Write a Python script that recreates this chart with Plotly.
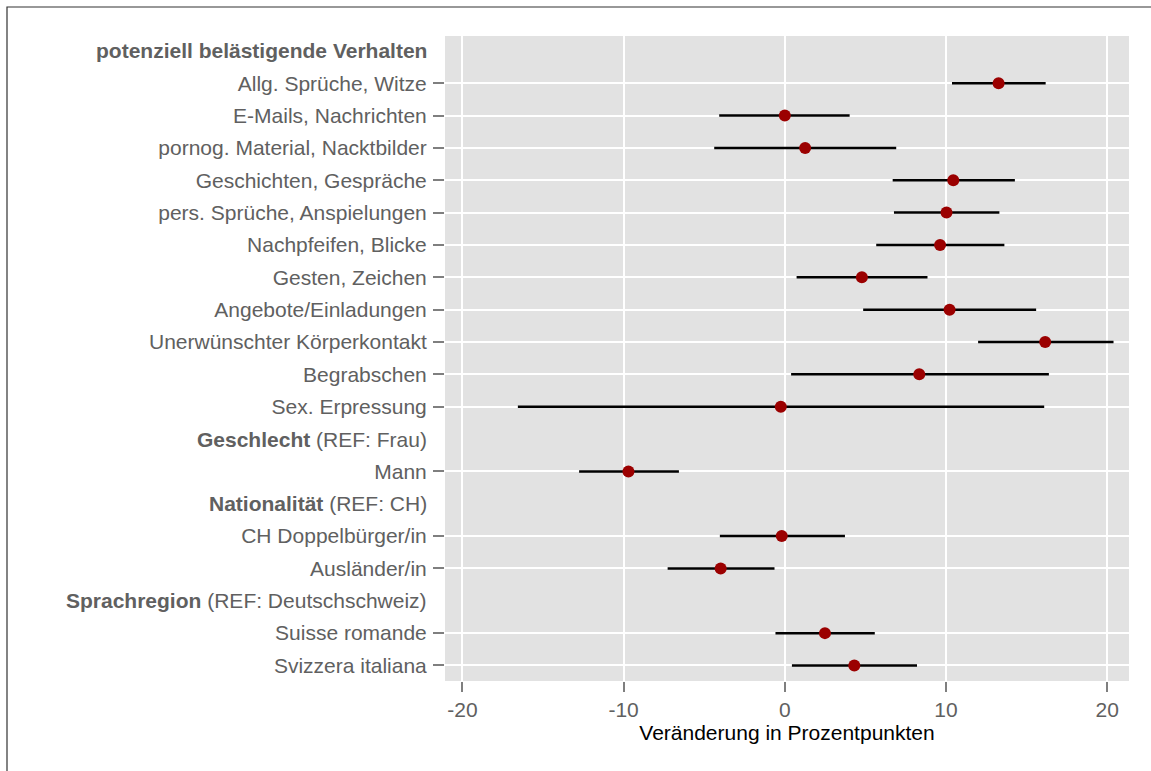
import plotly.graph_objects as go

# ---- data (top to bottom) ----
labels = [
    "Allg. Sprüche, Witze", "E-Mails, Nachrichten", "pornog. Material, Nacktbilder",
    "Geschichten, Gespräche", "pers. Sprüche, Anspielungen", "Nachpfeifen, Blicke",
    "Gesten, Zeichen", "Angebote/Einladungen", "Unerwünschter Körperkontakt",
    "Begrabschen", "Sex. Erpressung", "Mann", "CH Doppelbürger/in", "Ausländer/in",
    "Suisse romande", "Svizzera italiana",
]
estimate = [13.26, 0.0, 1.26, 10.45, 10.03, 9.63, 4.78, 10.22, 16.15, 8.34, -0.25,
            -9.70, -0.19, -3.98, 2.49, 4.31]
lower = [10.37, -4.07, -4.38, 6.69, 6.77, 5.67, 0.73, 4.86, 11.99, 0.39, -16.56,
         -12.76, -4.03, -7.27, -0.58, 0.44]
upper = [16.18, 4.02, 6.91, 14.27, 13.31, 13.62, 8.85, 15.59, 20.39, 16.38, 16.09,
         -6.57, 3.73, -0.64, 5.58, 8.20]

# group headers: (bold part, plain part, label they precede)
headers = [
    ("potenziell belästigende Verhalten", "", "Allg. Sprüche, Witze"),
    ("Geschlecht", " (REF: Frau)", "Mann"),
    ("Nationalität", " (REF: CH)", "CH Doppelbürger/in"),
    ("Sprachregion", " (REF: Deutschschweiz)", "Suisse romande"),
]
x_ticks = [-20, -10, 0, 10, 20]
x_title = "Veränderung in Prozentpunkten"

# ---- build row order including header rows ----
header_before = {h[2]: h for h in headers}
rows = []
for lab in labels:
    if lab in header_before:
        rows.append(("header", header_before[lab]))
    rows.append(("item", lab))
n = len(rows)
ypos = {}
header_y = []
for i, (kind, v) in enumerate(rows):
    y = n - i
    if kind == "item":
        ypos[v] = y
    else:
        header_y.append((y, v))

ys = [ypos[l] for l in labels]
err_plus = [u - e for u, e in zip(upper, estimate)]
err_minus = [e - l for e, l in zip(estimate, lower)]

W, H = 1151, 771
ML, MR, MT, MB = 445, 22, 36, 90
pw, ph = W - ML - MR, H - MT - MB

txt_color = "#606060"
font_fam = "Liberation Sans, Arial, Helvetica, sans-serif"

fig = go.Figure()
fig.add_trace(go.Scatter(
    x=estimate, y=ys, mode="markers",
    marker=dict(size=12, color="#9B0000", line=dict(width=0)),
    error_x=dict(type="data", symmetric=False, array=err_plus, arrayminus=err_minus,
                 color="black", thickness=2.5, width=0),
    showlegend=False, hoverinfo="skip",
))

# vertical reference line at 0
fig.add_shape(type="line", xref="x", yref="paper", x0=0, x1=0, y0=0, y1=1,
              line=dict(color="black", width=1.5, dash="5px,3px"), layer="between")

# outer frame
fig.add_shape(type="rect", xref="paper", yref="paper",
              x0=(7 - ML) / pw, x1=(W + 10 - ML) / pw,
              y0=(MT + ph - (H + 10)) / ph, y1=(MT + ph - 7) / ph,
              line=dict(color="#333333", width=1.2), fillcolor="rgba(0,0,0,0)",
              layer="above")

for y, (bold, plain, _) in header_y:
    fig.add_annotation(
        x=0, xref="paper", y=y, yref="y", xanchor="right", yanchor="middle",
        xshift=-16, showarrow=False,
        text=f"<b>{bold}</b>{plain}",
        font=dict(family=font_fam, size=21, color=txt_color),
    )

fig.update_layout(
    width=W, height=H,
    margin=dict(l=ML, r=MR, t=MT, b=MB, pad=0),
    paper_bgcolor="white", plot_bgcolor="#E2E2E2",
    font=dict(family=font_fam, size=21, color=txt_color),
    xaxis=dict(
        range=[-21.08, 21.35], tickvals=x_ticks, ticktext=[str(t) for t in x_ticks],
        showgrid=True, gridcolor="white", gridwidth=1.6, zeroline=False,
        ticks="outside", ticklen=10, tickwidth=2, tickcolor="#7f7f7f",
        tickfont=dict(size=21, color=txt_color), showline=False,
        title=dict(text=x_title, font=dict(size=21, color="black"), standoff=0),
    ),
    yaxis=dict(
        range=[0.52, n + 0.46], tickvals=ys, ticktext=labels,
        showgrid=True, gridcolor="white", gridwidth=1.6, zeroline=False,
        ticks="outside", ticklen=11, tickwidth=2, tickcolor="#7f7f7f",
        tickfont=dict(size=21, color=txt_color), showline=False,
        ticklabelstandoff=2,
    ),
)

fig.write_html("out.html", config={"displayModeBar": False},
               post_script="document.body.style.margin='0';")
